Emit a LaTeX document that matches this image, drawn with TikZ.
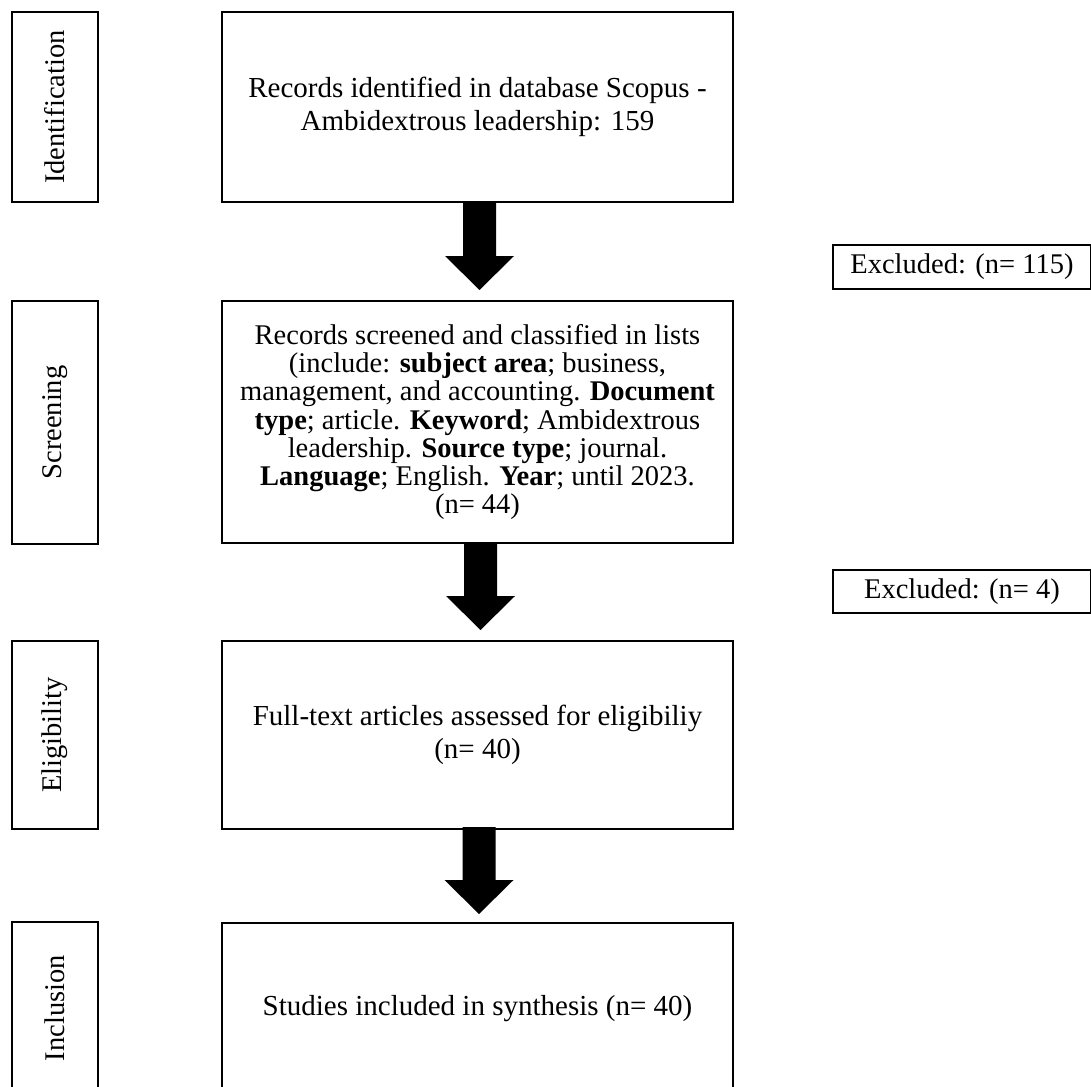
\documentclass[tikz,border=0pt]{standalone}
\usepackage{fontspec}
\setmainfont{Liberation Serif}
\usetikzlibrary{calc}
\newcommand\blockarrow[2]{%
  \fill[black] let \p1=(#1), \p2=(#2) in
    (\x2-16.5pt,\y1) -- (\x2+16.5pt,\y1) -- (\x2+16.5pt,\y2+34pt) --
    (\x2+34.5pt,\y2+34pt) -- (\x2,\y2) -- (\x2-34.5pt,\y2+34pt) --
    (\x2-16.5pt,\y2+34pt) -- cycle;}
\begin{document}
\begin{tikzpicture}[x=1pt,y=1pt,
  box/.style={draw, line width=2pt, anchor=north west, inner sep=0pt, align=center,
    minimum width=511pt, font=\fontsize{29}{32.7}\selectfont},
  stage/.style={draw, line width=2pt, anchor=north west, inner sep=0pt,
    minimum width=86pt, font=\fontsize{28.5}{32}\selectfont},
  excl/.style={draw, line width=2pt, anchor=north west, inner sep=0pt,
    minimum width=258pt, font=\fontsize{28.5}{32}\selectfont}]
\useasboundingbox (0,0) rectangle (1091,-1086);

% stage labels
\node[stage, minimum height=190pt] (s1) at (11,-11) {\rotatebox{90}{Identification}};
\node[stage, minimum height=243pt] (s2) at (11,-300) {\rotatebox{90}{Screening}};
\node[stage, minimum height=188pt] (s3) at (11,-640) {\rotatebox{90}{Eligibility}};
\node[stage, minimum height=172pt] (s4) at (11,-921) {\rotatebox{90}{Inclusion}};

% main boxes
\node[box, minimum height=190pt] (b1) at (221,-11)
  {Records identified in database Scopus -\\Ambidextrous leadership: 159};
\node[box, minimum height=242pt, font=\fontsize{28.5}{28.3}\selectfont] (b2) at (221,-300)
  {Records screened and classified in lists\\
   (include: \textbf{subject area}; business,\\
   management, and accounting. \textbf{Document}\\
   \textbf{type}; article. \textbf{Keyword}; Ambidextrous\\
   leadership. \textbf{Source type}; journal.\\
   \textbf{Language}; English. \textbf{Year}; until 2023.\\
   (n= 44)};
\node[box, minimum height=188pt] (b3) at (221,-640)
  {Full-text articles assessed for eligibiliy\\(n= 40)};
\node[box, minimum height=172pt] (b4) at (221,-922)
  {Studies included in synthesis (n= 40)};

% excluded boxes
\node[excl, minimum height=44pt] (e1) at (832,-244) {Excluded: (n= 115)};
\node[excl, minimum height=43pt] (e2) at (832,-569) {Excluded: (n= 4)};

% block arrows
\coordinate (t1) at ($(b2.north)+(2,10)$);
\coordinate (t2) at ($(b3.north)+(3,10)$);
\coordinate (t3) at ($(b4.north)+(1.5,8)$);
\blockarrow{b1.south}{t1}
\blockarrow{b2.south}{t2}
\blockarrow{$(b3.south)+(0,3)$}{t3}
\end{tikzpicture}
\end{document}
